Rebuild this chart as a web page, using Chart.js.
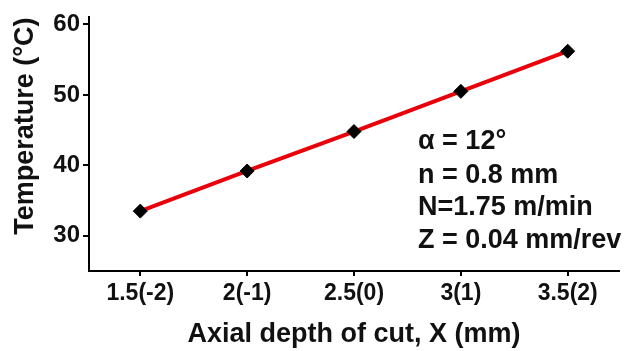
<!DOCTYPE html>
<html>
<head>
<meta charset="utf-8">
<script src="https://cdn.jsdelivr.net/npm/chart.js@4.4.1/dist/chart.umd.min.js"></script>
<style>
    body { margin: 0; background: #fff; }
    canvas { display: block; }
</style>
</head>
<body>
<canvas id="tempChart" width="627" height="351"></canvas>
<script>
// Données
const xValues = [1.5, 2, 2.5, 3, 3.5];
const xTickLabels = ['1.5(-2)', '2(-1)', '2.5(0)', '3(1)', '3.5(2)'];
const temperature = [33.5, 39.2, 44.8, 50.5, 56.2];
const yTicks = [30, 40, 50, 60];
const conditions = ['α = 12°', 'n = 0.8 mm', 'N=1.75 m/min', 'Z = 0.04 mm/rev'];

const FONT = '"Liberation Sans", Arial, sans-serif';

// Texte des conditions de coupe
const conditionsPlugin = {
    id: 'conditions',
    afterDraw(chart) {
        const ctx = chart.ctx;
        ctx.save();
        ctx.fillStyle = '#111';
        ctx.font = 'bold 27px ' + FONT;
        ctx.textAlign = 'left';
        ctx.textBaseline = 'alphabetic';
        const baselines = [149, 183, 215, 248];
        conditions.forEach((txt, i) => ctx.fillText(txt, 418, baselines[i]));
        ctx.restore();
    }
};

const ctx = document.getElementById('tempChart').getContext('2d');
new Chart(ctx, {
    type: 'line',
    data: {
        datasets: [{
            data: xValues.map((x, i) => ({ x: x, y: temperature[i] })),
            borderColor: '#e8000b',
            borderWidth: 4,
            pointStyle: 'rectRot',
            pointRadius: 7,
            pointBackgroundColor: '#000',
            pointBorderColor: '#000',
            pointBorderWidth: 1,
            tension: 0,
        }]
    },
    options: {
        responsive: false,
        animation: false,
        layout: { padding: { top: 16, right: 8, left: 0, bottom: 0 } },
        plugins: {
            legend: { display: false },
            tooltip: { enabled: false },
        },
        scales: {
            x: {
                type: 'linear',
                min: 1.26,
                max: 3.74,
                afterBuildTicks: axis => { axis.ticks = xValues.map(v => ({ value: v })); },
                afterFit: axis => { axis.height = 80; },
                border: { color: '#000', width: 2 },
                grid: { drawOnChartArea: false, tickLength: 5, tickColor: '#000', lineWidth: 2 },
                ticks: {
                    autoSkip: false,
                    maxRotation: 0,
                    padding: 4,
                    color: '#111',
                    font: { family: FONT, size: 23, weight: 'bold' },
                    callback: (v, i) => xTickLabels[i],
                },
                title: {
                    display: true,
                    text: 'Axial depth of cut, X (mm)',
                    color: '#111',
                    font: { family: FONT, size: 27, weight: 'bold' },
                    padding: { top: 3, bottom: 0 },
                },
            },
            y: {
                min: 25,
                max: 61,
                afterBuildTicks: axis => { axis.ticks = yTicks.map(v => ({ value: v })); },
                afterFit: axis => { axis.width = 89; },
                border: { color: '#000', width: 2 },
                grid: { drawOnChartArea: false, tickLength: 6, tickColor: '#000', lineWidth: 2 },
                ticks: {
                    padding: 3,
                    color: '#111',
                    font: { family: FONT, size: 24, weight: 'bold' },
                },
                title: {
                    display: true,
                    align: 'end',
                    text: 'Temperature (°C)',
                    color: '#111',
                    font: { family: FONT, size: 27, weight: 'bold' },
                    padding: { top: 9, bottom: 0 },
                },
            },
        },
    },
    plugins: [conditionsPlugin],
});
</script>
</body>
</html>
